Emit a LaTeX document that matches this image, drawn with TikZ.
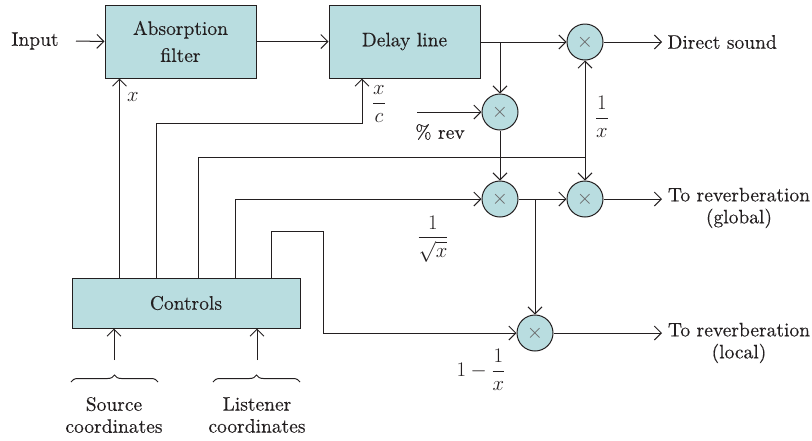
\documentclass[tikz,border=0pt]{standalone}
\usepackage{amsmath}
\usepackage{fontspec}
\setmainfont{lmroman10-regular.otf}[FakeBold=0.25]
\usetikzlibrary{arrows.meta,decorations.pathreplacing,calc}
\definecolor{boxfill}{RGB}{185,221,224}
\definecolor{ink}{RGB}{35,31,32}
\begin{document}
\begin{tikzpicture}[x=1pt,y=-1pt,line width=1pt,color=ink,
  font=\rmfamily\fontsize{19.5}{22}\selectfont,
  blk/.style={draw,fill=boxfill,minimum width=151pt,minimum height=73pt,inner sep=0pt,align=center,font=\rmfamily\fontsize{19.5}{27}\selectfont},
  mult/.style={circle,draw,fill=boxfill,minimum size=36pt,inner sep=0pt},
  arr/.style={-{Straight Barb[length=7pt,width=14pt]}},
  lbl/.style={inner sep=0pt},
  brc/.style={decorate,decoration={brace,amplitude=7pt},line width=1pt}]
\useasboundingbox (0,0) rectangle (812,440);
\newcommand{\mx}{\textcolor{ink!70}{$\times$}}
% blocks
\node[lbl] (inp) at (35,41) {Input};
\coordinate (inS) at (76,41);
\node[blk] (absf) at (180.5,41.5) {Absorption\\filter};
\node[blk] (delay) at (404.5,41.5) {Delay line};
\node[blk,minimum width=228pt,minimum height=50pt] (ctrl) at (186,303) {Controls};
% multipliers
\node[mult] (m1) at (585,42) {\mx};
\node[mult] (m2) at (500,112) {\mx};
\node[mult] (m3) at (500,199) {\mx};
\node[mult] (m4) at (585,199) {\mx};
\node[mult] (m5) at (535,333) {\mx};
% outputs
\coordinate (o1) at (662,42);
\coordinate (o2) at (662,199);
\coordinate (o3) at (662,333);
\node[lbl,anchor=west] (t1) at (667,42) {Direct sound};
\node[lbl,align=center] (t2) at (739,208) {To reverberation\\(global)};
\node[lbl,align=center] (t3) at (739,343) {To reverberation\\(local)};
% control taps
\coordinate (c1) at ($(ctrl.north west)+(48,0)$);
\coordinate (c2) at ($(ctrl.north west)+(85,0)$);
\coordinate (c3) at ($(ctrl.north west)+(127,0)$);
\coordinate (c4) at ($(ctrl.north west)+(164,0)$);
\coordinate (c5) at ($(ctrl.north west)+(200,0)$);
\coordinate (xc) at (362,123);
\coordinate (j1) at (585,157);
\coordinate (k1) at (323,231);
\coordinate (b1) at (500,42);
\coordinate (b2) at (535,199);
\coordinate (rv) at (417,112);
% connectors
\draw[arr] (inS) -- (absf.west);
\draw[arr] (absf.east) -- (delay.west);
\draw[arr] (delay.east |- m1.west) -- (m1.west);
\draw[arr] (b1) -- (m2.north);
\draw[arr] (rv) -- (m2.west);
\draw[arr] (m2.south) -- (m3.north);
\draw[arr] (c1) -- (c1 |- absf.south);
\draw[arr] (c2) |- (xc) -- (xc |- delay.south);
\draw (c3) |- (j1);
\draw[arr] (j1) -- (m1.south);
\draw[arr] (j1) -- (m4.north);
\draw[arr] (c4) |- (m3.west);
\draw[arr] (m3.east) -- (m4.west);
\draw[arr] (b2) -- (m5.north);
\draw[arr] (c5) |- (k1) |- (m5.west);
\draw[arr] (m1.east) -- (o1);
\draw[arr] (m4.east) -- (o2);
\draw[arr] (m5.east) -- (o3);
% labels
\node[lbl] (lx) at (133,97) {$x$};
\node[lbl] (lxc) at (379,104) {$\dfrac{x}{c}$};
\node[lbl] (lrev) at (440,132) {\% rev};
\node[lbl] (l1x) at (602,117) {$\dfrac{1}{x}$};
\node[lbl] (lsq) at (433,239) {$\dfrac{1}{\sqrt{x}}$};
\node[lbl] (l1m) at (481,370) {$1-\dfrac{1}{x}$};
% inputs of controls
\coordinate (s1) at (114,360);
\coordinate (s2) at (257,360);
\draw[arr] (s1) -- (s1 |- ctrl.south);
\draw[arr] (s2) -- (s2 |- ctrl.south);
\draw[brc] (71,382) -- (158,382);
\draw[brc] (213,382) -- (300,382);
\node[lbl,align=center] (src) at (114,415) {Source\\coordinates};
\node[lbl,align=center] (lis) at (257,415) {Listener\\coordinates};
\end{tikzpicture}
\end{document}
